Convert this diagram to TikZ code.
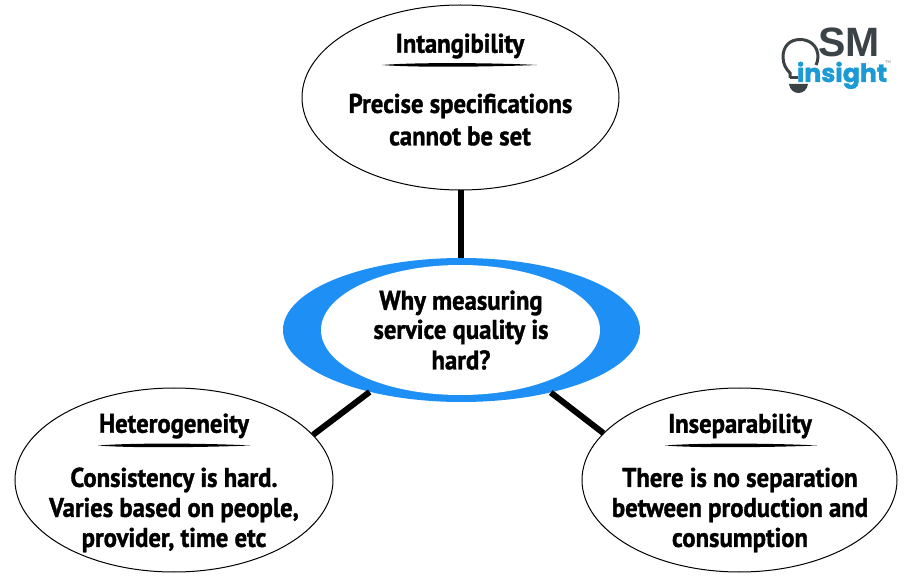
\documentclass[tikz,border=0pt]{standalone}
\usepackage{fontspec}
\setmainfont{PT Sans}[BoldFeatures={FakeBold=1.2,FakeStretch=0.915}]
\newfontfamily\logofont{Liberation Sans}
\newfontfamily\insightfont{Poppins}[BoldFeatures={FakeBold=1.5}]
\usetikzlibrary{shapes.geometric,backgrounds}
\definecolor{ringblue}{HTML}{1E90F5}
\definecolor{logodark}{HTML}{3C4347}
\definecolor{logoblue}{HTML}{1B9AD6}
\tikzset{
  x=1pt,y=-1pt,
  bubble/.style={draw=black,line width=1pt,ellipse,fill=white,inner sep=0pt},
  link/.style={line width=6pt,black},
  heading/.style={font=\bfseries\fontsize{27}{27}\selectfont,inner sep=0pt,anchor=center},
  body/.style={font=\bfseries\fontsize{27}{27}\selectfont,inner sep=0pt,anchor=center},
  rule/.style={fill=black},
}
\begin{document}
\begin{tikzpicture}
\useasboundingbox (0,0) rectangle (914,580);
\fill[white] (0,0) rectangle (914,580);
% ovals
\node[bubble,minimum width=317pt,minimum height=185pt] (top) at (460.5,97.5) {};
\node[bubble,minimum width=318pt,minimum height=184pt] (left) at (174,480) {};
\node[bubble,minimum width=315pt,minimum height=184pt] (right) at (739.5,480) {};
\node[ellipse,fill=ringblue,inner sep=0pt,minimum width=357pt,minimum height=144pt] (hub) at (461.5,330) {};
\node[ellipse,fill=white,inner sep=0pt,minimum width=279pt,minimum height=130pt] (hubin) at (460.5,330) {};
% connectors
\draw[link] (top.south) -- (hub.north -| top.south);
\draw[link] (left.18) -- (hub.214);
\draw[link] (right.161) -- (hub.325);
% texts
\node[heading] (t1) at (460,46) {Intangibility};
\node[body] (t2) at (460.5,106) {Precise specifications};
\node[body] (t3) at (460,136) {cannot be set};
\node[body] (c1) at (461,303) {Why measuring};
\node[body] (c2) at (461,332) {service quality is};
\node[body] (c3) at (461,360) {hard?};
\node[heading] (l1) at (174,426) {Heterogeneity};
\node[body] (l2) at (174,480) {Consistency is hard.};
\node[body] (l3) at (174,510) {Varies based on people,};
\node[body] (l4) at (174,540) {provider, time etc};
\node[heading] (r1) at (740,426) {Inseparability};
\node[body] (r2) at (740,480) {There is no separation};
\node[body] (r3) at (740,510) {between production and};
\node[body] (r4) at (740,540) {consumption};
% brush underlines
\fill[rule] (382,65) .. controls (420,62) and (500,63) .. (537,65) .. controls (500,66.5) and (420,68) .. (382,65) -- cycle;
\fill[rule] (98,445.5) .. controls (135,442.5) and (215,443.5) .. (250,445.5) .. controls (215,447) and (135,448.5) .. (98,445.5) -- cycle;
\fill[rule] (665,445.5) .. controls (702,442.5) and (782,443.5) .. (817,445.5) .. controls (782,447) and (702,448.5) .. (665,445.5) -- cycle;
% logo
\draw[logodark,line width=3pt] (790,78) -- (790,73) .. controls (786,69) and (783,64) .. (783,57) .. controls (783,46) and (790,39.5) .. (800,39.5) .. controls (810,39.5) and (818,46) .. (818,57) .. controls (818,60) and (817,63) .. (816,65);
\draw[logodark,line width=3pt] (790,78) -- (798,78);
\fill[logodark] (789,84) -- (808,84) .. controls (807,90) and (803,93) .. (798.5,93) .. controls (794,93) and (790,90) .. (789,84) -- cycle;
\node[inner sep=0pt,text=logodark,font=\logofont\bfseries\fontsize{41}{41}\selectfont,anchor=center] (sm) at (849,42.5) {SM};
\node[inner sep=0pt,text=logoblue,font=\insightfont\bfseries\fontsize{25.2}{25.2}\selectfont,anchor=base] (ins) at (842,82) {insight};
\node[inner sep=0pt,text=gray,font=\logofont\fontsize{4}{4}\selectfont] (tm) at (888,62) {TM};
\end{tikzpicture}
\end{document}
